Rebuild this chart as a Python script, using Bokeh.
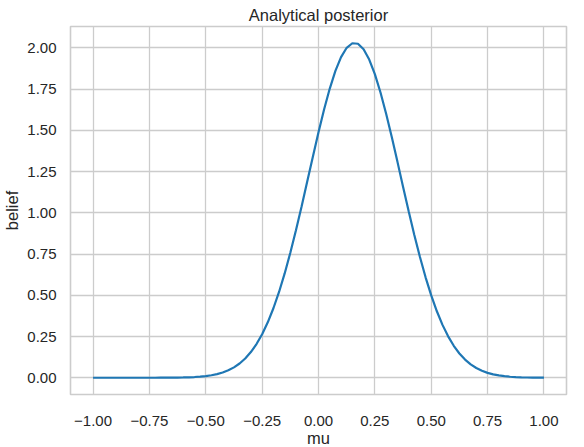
from bokeh.plotting import figure
from bokeh.models import Range1d, FixedTicker, CustomJSTickFormatter, ColumnDataSource
from bokeh.embed import file_html
from bokeh.resources import INLINE

# Values
mu = [-1.0, -0.975, -0.95, -0.925, -0.9, -0.875, -0.85, -0.825, -0.8, -0.775, -0.75, -0.725,
      -0.7, -0.675, -0.65, -0.625, -0.6, -0.575, -0.55, -0.525, -0.5, -0.475, -0.45, -0.425,
      -0.4, -0.375, -0.35, -0.325, -0.3, -0.275, -0.25, -0.225, -0.2, -0.175, -0.15, -0.125,
      -0.1, -0.075, -0.05, -0.025, 0.0, 0.025, 0.05, 0.075, 0.1, 0.125, 0.15, 0.175,
      0.2, 0.225, 0.25, 0.275, 0.3, 0.325, 0.35, 0.375, 0.4, 0.425, 0.45, 0.475,
      0.5, 0.525, 0.55, 0.575, 0.6, 0.625, 0.65, 0.675, 0.7, 0.725, 0.75, 0.775,
      0.8, 0.825, 0.85, 0.875, 0.9, 0.925, 0.95, 0.975, 1.0]
belief = [0.0, 0.0, 0.0, 0.0, 0.0, 0.0, 0.0, 0.0, 0.0, 0.0, 0.0, 0.0001,
          0.0003, 0.0004, 0.0007, 0.0012, 0.0018, 0.0029, 0.0045, 0.0068, 0.0103, 0.0152, 0.0222, 0.0319,
          0.0451, 0.0629, 0.0864, 0.1169, 0.1556, 0.2043, 0.2639, 0.3360, 0.4213, 0.5201, 0.6324, 0.7577,
          0.8938, 1.0386, 1.1888, 1.3400, 1.4878, 1.6272, 1.7529, 1.8595, 1.9431, 1.9999, 2.0275, 2.0245,
          1.9910, 1.9285, 1.8400, 1.7290, 1.6002, 1.4588, 1.3100, 1.1583, 1.0091, 0.8658, 0.7316, 0.6088,
          0.4992, 0.4030, 0.3205, 0.2511, 0.1937, 0.1471, 0.1101, 0.0812, 0.0590, 0.0422, 0.0297, 0.0206,
          0.0141, 0.0095, 0.0063, 0.0041, 0.0026, 0.0016, 0.0010, 0.0006, 0.0004]

x_ticks = [-1.0, -0.75, -0.5, -0.25, 0.0, 0.25, 0.5, 0.75, 1.0]
y_ticks = [0.0, 0.25, 0.5, 0.75, 1.0, 1.25, 1.5, 1.75, 2.0]

TEXT = "#262626"
GRID = "#cccccc"
FONT = "Liberation Sans"

src = ColumnDataSource(dict(mu=mu, belief=belief))

p = figure(frame_width=496, frame_height=368, output_backend="svg", toolbar_location=None,
           x_range=Range1d(-1.1, 1.1), y_range=Range1d(-0.1014, 2.1289),
           min_border_left=65, min_border_right=7, min_border_top=25, min_border_bottom=20,
           title="Analytical posterior")

p.line("mu", "belief", source=src, line_color="#1f77b4", line_width=2.2)

p.title.text_font = FONT
p.title.text_font_size = "16.5px"
p.title.text_font_style = "normal"
p.title.text_color = TEXT
p.title.align = "center"
p.title.standoff = 6
p.title.offset = 0

fmt = CustomJSTickFormatter(code="return (tick < 0 ? '\u2212' : '') + Math.abs(tick).toFixed(2);")

for ax, ticks in ((p.xaxis[0], x_ticks), (p.yaxis[0], y_ticks)):
    ax.ticker = FixedTicker(ticks=ticks)
    ax.formatter = fmt
    ax.axis_line_color = None
    ax.major_tick_line_color = None
    ax.minor_tick_line_color = None
    ax.major_tick_out = 0
    ax.major_tick_in = 0
    ax.minor_tick_out = 0
    ax.major_label_text_font = FONT
    ax.major_label_text_font_size = "15px"
    ax.major_label_text_color = TEXT
    ax.axis_label_text_font = FONT
    ax.axis_label_text_font_size = "16.5px"
    ax.axis_label_text_font_style = "normal"
    ax.axis_label_text_color = TEXT

p.xaxis.axis_label = "mu"
p.yaxis.axis_label = "belief"
p.xaxis.major_label_standoff = 21
p.yaxis.major_label_standoff = 14
p.xaxis.axis_label_standoff = 0
p.yaxis.axis_label_standoff = 3

p.xgrid.ticker = FixedTicker(ticks=x_ticks)
p.ygrid.ticker = FixedTicker(ticks=y_ticks)
p.grid.grid_line_color = GRID
p.grid.grid_line_width = 1.3

p.outline_line_color = GRID
p.outline_line_width = 1.6
p.background_fill_color = "white"
p.border_fill_color = "white"

open("out.html", "w").write(file_html(p, INLINE))
